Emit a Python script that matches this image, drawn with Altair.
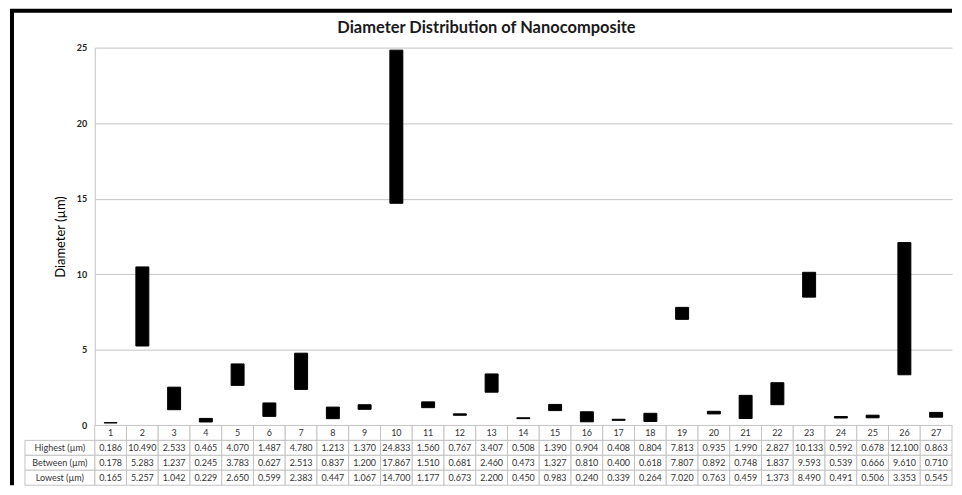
import altair as alt
import pandas as pd

categories = [str(i) for i in range(1, 28)]
highest = [0.186, 10.490, 2.533, 0.465, 4.070, 1.487, 4.780, 1.213, 1.370, 24.833,
           1.560, 0.767, 3.407, 0.508, 1.390, 0.904, 0.408, 0.804, 7.813, 0.935,
           1.990, 2.827, 10.133, 0.592, 0.678, 12.100, 0.863]
between = [0.178, 5.283, 1.237, 0.245, 3.783, 0.627, 2.513, 0.837, 1.200, 17.867,
           1.510, 0.681, 2.460, 0.473, 1.327, 0.810, 0.400, 0.618, 7.807, 0.892,
           0.748, 1.837, 9.593, 0.539, 0.666, 9.610, 0.710]
lowest = [0.165, 5.257, 1.042, 0.229, 2.650, 0.599, 2.383, 0.447, 1.067, 14.700,
          1.177, 0.673, 2.200, 0.450, 0.983, 0.240, 0.339, 0.264, 7.020, 0.763,
          0.459, 1.373, 8.490, 0.491, 0.506, 3.353, 0.545]
row_labels = ["Highest (µm)", "Between (µm)", "Lowest (µm)"]
y_ticks = [0, 5, 10, 15, 20, 25]
title_text = "Diameter Distribution of Nanocomposite"
y_title = "Diameter (µm)"

GRID = "#c4c4c4"
FONT = "Lato"
PLOT_W = 860
PLOT_H = 379
ROW_H = 15

bars_df = pd.DataFrame({"cat": categories, "low": lowest, "high": highest})

rows = []
for i, c in enumerate(categories):
    rows.append({"cat": c, "row": "hdr", "label": c})
    for r, vals in zip(row_labels, [highest, between, lowest]):
        rows.append({"cat": c, "row": r, "label": f"{vals[i]:.3f}"})
table_df = pd.DataFrame(rows)
rowlab_df = pd.DataFrame({"row": row_labels})

x_scale = alt.Scale(domain=categories, paddingInner=0, paddingOuter=0)

bars = alt.Chart(bars_df).mark_bar(
    color="black", stroke="black", strokeWidth=1, size=13
).encode(
    x=alt.X("cat:N", scale=x_scale, axis=None),
    y=alt.Y(
        "low:Q",
        scale=alt.Scale(domain=[0, 25], nice=False),
        axis=alt.Axis(
            values=y_ticks, title=y_title, titleFontSize=13, titleFontWeight="normal",
            titleColor="black", titlePadding=9, titleFont=FONT,
            labelFontSize=9, labelFontWeight="bold", labelColor="#222", labelFont=FONT,
            labelPadding=8, ticks=False, domainColor=GRID, gridColor=GRID, grid=True,
        ),
    ),
    y2="high:Q",
).properties(
    width=PLOT_W, height=PLOT_H,
    title=alt.TitleParams(
        text=title_text, fontSize=16.5, fontWeight="bold", font=FONT, color="#1a1a1a",
        anchor="middle", dx=-37, offset=7,
    ),
)

y_row = alt.Y(
    "row:N",
    scale=alt.Scale(domain=["hdr"] + row_labels, paddingInner=0, paddingOuter=0),
    axis=None,
)
x_cat = alt.X("cat:N", scale=x_scale, axis=None)

cells = alt.Chart(table_df).mark_rect(fill="white", stroke=GRID, strokeWidth=1).encode(
    x=x_cat, y=y_row
)
cell_text = alt.Chart(table_df).mark_text(fontSize=9, font=FONT, color="#333").encode(
    x=x_cat, y=y_row, text="label:N"
)
label_cells = alt.Chart(rowlab_df).mark_rect(fill="white", stroke=GRID, strokeWidth=1).encode(
    x=alt.value(-70), x2=alt.value(0), y=y_row
)
label_text = alt.Chart(rowlab_df).mark_text(fontSize=9, font=FONT, color="#333").encode(
    x=alt.value(-35), y=y_row, text="row:N"
)
frame_df = pd.DataFrame({"k": [0]})
frame_left = alt.Chart(frame_df).mark_rule(color="black", strokeWidth=4).encode(
    x=alt.value(-83), y=alt.value(-416), y2=alt.value(60)
)
frame_top = alt.Chart(frame_df).mark_rule(color="black", strokeWidth=4).encode(
    y=alt.value(-416), x=alt.value(-85), x2=alt.value(860)
)

table = alt.layer(cells, label_cells, cell_text, label_text, frame_left, frame_top).properties(
    width=PLOT_W, height=4 * ROW_H
)

chart = alt.vconcat(bars, table, spacing=0, bounds="flush").resolve_scale(
    y="independent"
).properties(padding=0).configure(font=FONT, background="white").configure_view(stroke=None)

chart.save("out.html", embed_options={"renderer": "svg", "actions": False})
